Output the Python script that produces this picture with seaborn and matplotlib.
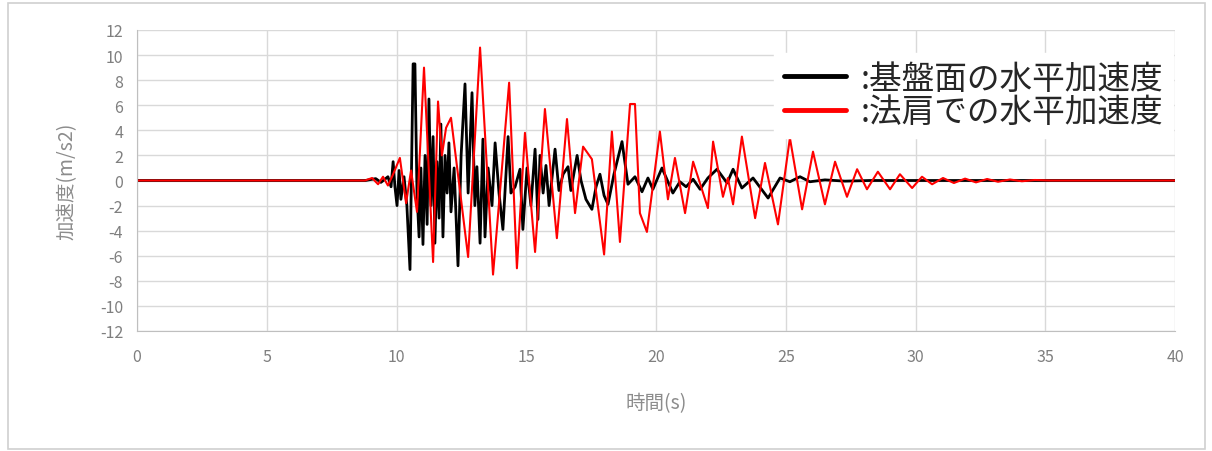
import numpy as np
import pandas as pd
import seaborn as sns
import matplotlib.pyplot as plt
from matplotlib.patches import Rectangle

# 基盤面の水平加速度 (黒)
base_t = [0.0, 8.8, 9.2, 9.4, 9.67, 9.79, 9.87, 9.94, 10.02, 10.1, 10.17, 10.29, 10.4, 10.52,
          10.64, 10.71, 10.79, 10.87, 10.94, 11.02, 11.1, 11.18, 11.25, 11.33, 11.41, 11.48,
          11.56, 11.64, 11.71, 11.79, 11.87, 11.95, 12.02, 12.1, 12.22, 12.37, 12.49, 12.64,
          12.76, 12.91, 13.02, 13.1, 13.22, 13.33, 13.41, 13.53, 13.68, 13.8, 13.95, 14.1,
          14.3, 14.41, 14.57, 14.76, 14.87, 15.03, 15.18, 15.34, 15.45, 15.53, 15.65, 15.76,
          15.88, 16.11, 16.26, 16.42, 16.61, 16.72, 16.96, 17.11, 17.3, 17.53, 17.69, 17.84,
          18.0, 18.15, 18.38, 18.69, 18.92, 19.19, 19.46, 19.69, 19.88, 20.23, 20.65, 20.92,
          21.16, 21.43, 21.7, 22.0, 22.35, 22.74, 22.97, 23.31, 23.74, 24.32, 24.78, 25.16,
          25.55, 25.93, 26.51, 27.28, 28.25, 40.0]
base_a = [0.0, 0.0, 0.15, -0.15, 0.3, -0.5, 1.5, -0.5, -2.0, 0.8, -1.5, 0.3, -2.0, -7.1,
          9.3, 9.3, -1.0, -4.5, 1.0, -5.1, 2.0, -3.5, 6.5, -2.0, 3.5, -5.0,
          1.5, -3.0, 4.5, -4.5, 2.0, -1.0, 3.0, -2.5, 1.0, -6.8, 2.0, 7.7,
          -1.0, 7.0, -2.0, 1.1, -5.0, 3.3, -4.5, 1.0, -2.0, 3.0, -1.0, -3.9,
          3.5, -1.0, -0.5, 0.9, -3.9, 1.0, -2.0, 2.5, -3.1, 2.0, -1.0, 1.2,
          -2.0, 2.5, -0.8, 0.5, 1.1, -0.8, 2.0, 0.0, -1.5, -2.3, -0.5, 0.5,
          -1.2, -1.9, 0.5, 3.1, -0.3, 0.3, -0.9, 0.2, -0.7, 1.0, -1.0, -0.1,
          -0.5, 0.1, -0.7, 0.2, 0.9, -0.2, 0.9, -0.6, 0.2, -1.4, 0.2, -0.1,
          0.3, -0.1, 0.05, -0.05, 0.0, 0.0]

# 法肩での水平加速度 (赤)
crest_t = [0.0, 8.79, 9.06, 9.29, 9.48, 9.67, 9.87, 10.13, 10.37, 10.56, 10.79, 11.06,
           11.41, 11.6, 11.75, 11.91, 12.1, 12.76, 13.22, 13.72, 14.34, 14.64, 14.95,
           15.34, 15.72, 16.18, 16.57, 16.88, 17.19, 17.53, 18.0, 18.3, 18.61, 19.0, 19.19,
           19.38, 19.65, 20.15, 20.46, 20.73, 21.12, 21.43, 22.0, 22.2, 22.58, 22.77, 22.97,
           23.31, 23.82, 24.2, 24.7, 25.16, 25.63, 26.05, 26.51, 26.9, 27.36, 27.75, 28.13,
           28.55, 29.02, 29.4, 29.87, 30.25, 30.64, 31.06, 31.48, 31.91, 32.33, 32.76,
           33.18, 33.64, 34.1, 34.6, 35.2, 40.0]
crest_a = [0.0, 0.0, 0.2, -0.3, 0.3, -0.4, 0.5, 1.8, -1.8, 0.8, -2.5, 9.0,
           -6.5, 6.3, 2.0, 4.2, 5.0, -6.1, 10.6, -7.5, 7.8, -7.0, 3.8,
           -5.7, 5.7, -4.6, 4.9, -2.6, 2.7, 1.7, -5.9, 3.9, -4.9, 6.1, 6.1,
           -2.6, -4.1, 3.9, -1.5, 1.8, -2.6, 1.5, -2.2, 3.1, -1.3, 0.2, -1.9,
           3.5, -3.0, 1.4, -3.5, 3.4, -2.3, 2.3, -1.9, 1.5, -1.3, 0.9, -0.7,
           0.7, -0.7, 0.5, -0.6, 0.3, -0.3, 0.2, -0.2, 0.15, -0.15, 0.12,
           -0.1, 0.08, -0.06, 0.04, 0.0, 0.0]

legend_labels = [':基盤面の水平加速度', ':法肩での水平加速度']

base_df = pd.DataFrame({'t': base_t, 'a': base_a})
crest_df = pd.DataFrame({'t': crest_t, 'a': crest_a})

sns.set_style('white')
plt.rcParams['font.family'] = ['Noto Sans CJK JP', 'DejaVu Sans']
plt.rcParams['axes.unicode_minus'] = False

fig = plt.figure(figsize=(12.12, 4.52), dpi=100)
ax = fig.add_axes([137 / 1212, 1 - 332 / 452, 1038 / 1212, 301 / 452])

sns.lineplot(data=base_df, x='t', y='a', ax=ax, color='black', linewidth=2.0,
             label=legend_labels[0], sort=False)
sns.lineplot(data=crest_df, x='t', y='a', ax=ax, color='#ff0000', linewidth=1.5,
             label=legend_labels[1], sort=False)

ax.set_xlim(0, 40)
ax.set_ylim(-12, 12)
ax.set_xticks(range(0, 41, 5))
ax.set_yticks(range(-12, 13, 2))
ax.grid(True, color='#d9d9d9', linewidth=1.0)
ax.set_axisbelow(True)
for s in ['top', 'right']:
    ax.spines[s].set_visible(False)
for s in ['left', 'bottom']:
    ax.spines[s].set_color('#bfbfbf')
ax.tick_params(axis='both', colors='#7f7f7f', labelsize=11.5, length=0)
ax.tick_params(axis='x', pad=12)
ax.tick_params(axis='y', pad=10)
ax.set_xlabel('時間(s)', color='#8c8c8c', fontsize=14, labelpad=20)
ax.set_ylabel('加速度(m/s2)', color='#8c8c8c', fontsize=14, labelpad=16)

leg = ax.legend(loc='upper right', bbox_to_anchor=(1.014, 0.978), frameon=True,
                fontsize=23.5, handlelength=1.9, handletextpad=0.45,
                borderpad=0.3, labelspacing=0.05, fancybox=False)
leg.get_frame().set_edgecolor('white')
leg.get_frame().set_facecolor('white')
leg.get_frame().set_alpha(1.0)
for line in leg.get_lines():
    line.set_linewidth(3.5)

fig.patches.append(Rectangle((8 / 1212, 2 / 452), 1197 / 1212, 446 / 452,
                             transform=fig.transFigure, fill=False,
                             edgecolor='#d0d0d0', linewidth=1.2))

fig.savefig('out.png', dpi=100)
